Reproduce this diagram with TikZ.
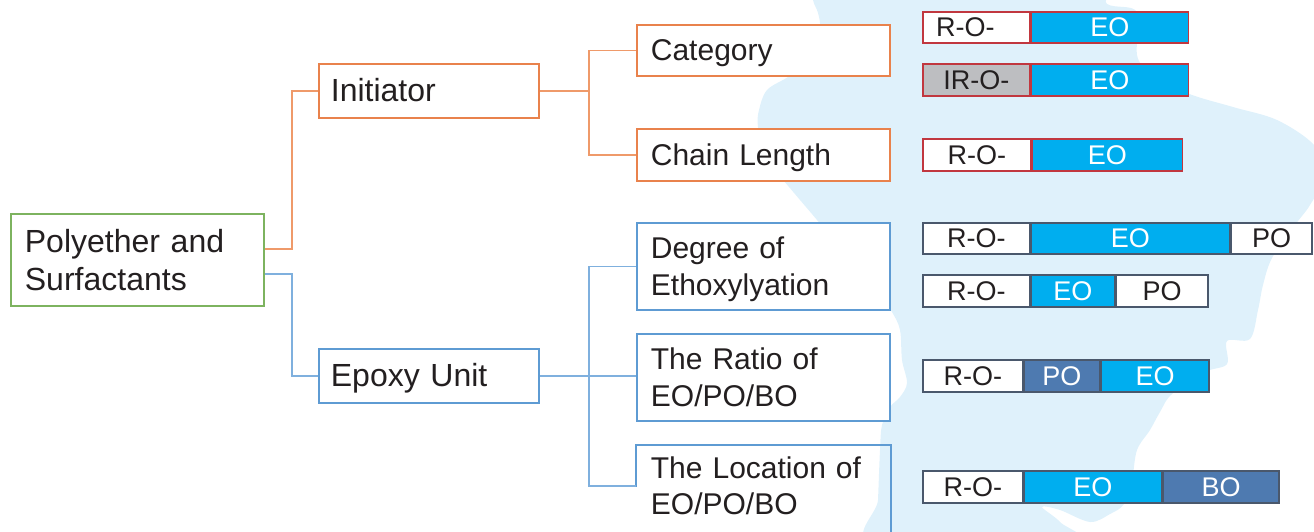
\documentclass[tikz,border=0pt]{standalone}
\usepackage{fontspec}
\setmainfont{Liberation Sans}
\usetikzlibrary{calc}
\definecolor{txt}{HTML}{231F20}
\definecolor{orng}{HTML}{E9824C}
\definecolor{orngl}{HTML}{EF9A6A}
\definecolor{grn}{HTML}{7DB35F}
\definecolor{blu}{HTML}{5E9BD3}
\definecolor{blul}{HTML}{7FB0DE}
\definecolor{bgb}{HTML}{DFF1FB}
\definecolor{redb}{HTML}{C1373F}
\definecolor{slate}{HTML}{4A586C}
\definecolor{eoc}{HTML}{00AEEF}
\definecolor{steel}{HTML}{4E7AB0}
\definecolor{gry}{HTML}{BDBEC1}
\newcommand{\capline}[1]{\vphantom{C}\smash{#1}}
\begin{document}
\begin{tikzpicture}[x=1pt,y=-1pt,
  box/.style={draw, fill=white, line width=1.8pt, anchor=north west, inner xsep=14pt, inner ysep=0pt, align=left, text=txt},
  big/.style={font=\fontsize{32}{38}\selectfont},
  mid/.style={font=\fontsize{30}{36.5}\selectfont},
  cell/.style={draw, line width=1.6pt, anchor=north west, inner sep=0pt, font=\fontsize{27}{30}\selectfont, text=txt},
  ro/.style={cell, fill=white},
  eo/.style={cell, fill=eoc, text=white},
  po/.style={cell, fill=white},
  so/.style={cell, fill=steel, text=white},
  oline/.style={draw=orngl, line width=1.5pt},
  bline/.style={draw=blul, line width=1.5pt}]
\useasboundingbox (0,0) rectangle (1314,531);
\clip (0,0) rectangle (1314,531);
% background map
\fill[bgb] plot[smooth cycle, tension=0.55] coordinates {
 (812,-20) (813,0) (818,13) (820,30) (812,60) (788,77) (767,90) (759,110) (758,127)
 (765,160) (783,180) (800,200) (817,220) (850,260) (880,295) (892,312) (900,330)
 (902,360) (907,383) (900,397) (890,407) (882,425) (880,450) (878,500) (876,545)
 (1075,545) (1060,522) (1042,507) (1060,510) (1090,522) (1110,514) (1124,504)
 (1132,480) (1137,450) (1150,430) (1160,412) (1172,394) (1205,372) (1227,364)
 (1227,341) (1250,339) (1258,310) (1263,285) (1272,258) (1295,225) (1310,205)
 (1325,175) (1314,145) (1277,120) (1233,107) (1187,93) (1150,72) (1137,55)
 (1137,12) (1107,4) (1085,-20)};
% tree boxes
\node[box, draw=grn, big, text width=225pt, minimum height=92pt] (root) at (10,213) {Polyether and\\Surfactants};
\node[box, draw=orng, big, inner xsep=12pt, text width=196pt, minimum height=54pt] (init) at (318,63) {\capline{Initiator}};
\node[box, draw=blu, big, inner xsep=12pt, text width=196pt, minimum height=54pt] (epoxy) at (318,348) {\capline{Epoxy Unit}};
\node[box, draw=orng, mid, text width=225pt, minimum height=51pt] (cat) at (636,24) {\capline{Category}};
\node[box, draw=orng, mid, text width=225pt, minimum height=52pt] (chain) at (636,128) {\capline{Chain Length}};
\node[box, draw=blu, mid, text width=225pt, minimum height=87pt] (deg) at (636,222) {\rule{0pt}{0.93em}Degree of\\Ethoxyl\smash{y}ation};
\node[box, draw=blu, mid, text width=225pt, minimum height=87pt] (ratio) at (636,333) {The Ratio of\\EO/PO/BO};
\node[box, draw=none, fill=none, mid, text width=225pt, minimum height=80pt] (loc) at (636,445) {The Location of\\EO/PO/BO};
\draw[blu, line width=1.8pt] (loc.south west) ++(0,-40) |- (loc.north east) -- ++(0,120);
% connectors
\coordinate (rootO) at ([yshift=11pt]root.east);
\coordinate (rootB) at ([yshift=-14pt]root.east);
\draw[oline] (rootO) -- ++(27,0) |- (init.west);
\draw[bline] (rootB) -- ++(27,0) |- (epoxy.west);
\coordinate (oj) at ($(init.east)+(49,0)$);
\draw[oline] (init.east) -- (oj);
\draw[oline] (cat.west) -| (oj) |- (chain.west);
\coordinate (bj) at ($(epoxy.east)+(49,0)$);
\draw[bline] (epoxy.east) -- (epoxy.east -| ratio.west);
\draw[bline] (deg.west) -| (bj) |- (loc.west);
% bars
\node[ro, draw=redb, minimum width=107pt, minimum height=31pt] (a1) at (922,11) {\hspace*{-22pt}R-O-};
\node[eo, draw=redb, minimum width=157pt, minimum height=31pt] (a2) at (a1.north east) {EO};
\node[cell, fill=gry, draw=redb, minimum width=107pt, minimum height=32pt] (b1) at (922,63) {IR-O-};
\node[eo, draw=redb, minimum width=157pt, minimum height=32pt] (b2) at (b1.north east) {EO};
\node[ro, draw=redb, minimum width=108pt, minimum height=32pt] (c1) at (922,138) {R-O-};
\node[eo, draw=redb, minimum width=150pt, minimum height=32pt] (c2) at (c1.north east) {EO};
\node[ro, draw=slate, minimum width=107pt, minimum height=31pt] (d1) at (922,222) {R-O-};
\node[eo, draw=slate, minimum width=198pt, minimum height=31pt] (d2) at (d1.north east) {EO};
\node[po, draw=slate, minimum width=81pt, minimum height=31pt] (d3) at (d2.north east) {PO};
\node[ro, draw=slate, minimum width=107pt, minimum height=32pt] (e1) at (922,274) {R-O-};
\node[eo, draw=slate, minimum width=83pt, minimum height=32pt] (e2) at (e1.north east) {EO};
\node[po, draw=slate, minimum width=92pt, minimum height=32pt] (e3) at (e2.north east) {PO};
\node[ro, draw=slate, minimum width=100pt, minimum height=32pt] (f1) at (922,359) {R-O-};
\node[so, draw=slate, minimum width=75pt, minimum height=32pt] (f2) at (f1.north east) {PO};
\node[eo, draw=slate, minimum width=108pt, minimum height=32pt] (f3) at (f2.north east) {EO};
\node[ro, draw=slate, minimum width=100pt, minimum height=32pt] (g1) at (922,470) {R-O-};
\node[eo, draw=slate, minimum width=137pt, minimum height=32pt] (g2) at (g1.north east) {EO};
\node[so, draw=slate, minimum width=116pt, minimum height=32pt] (g3) at (g2.north east) {BO};
\end{tikzpicture}
\end{document}
